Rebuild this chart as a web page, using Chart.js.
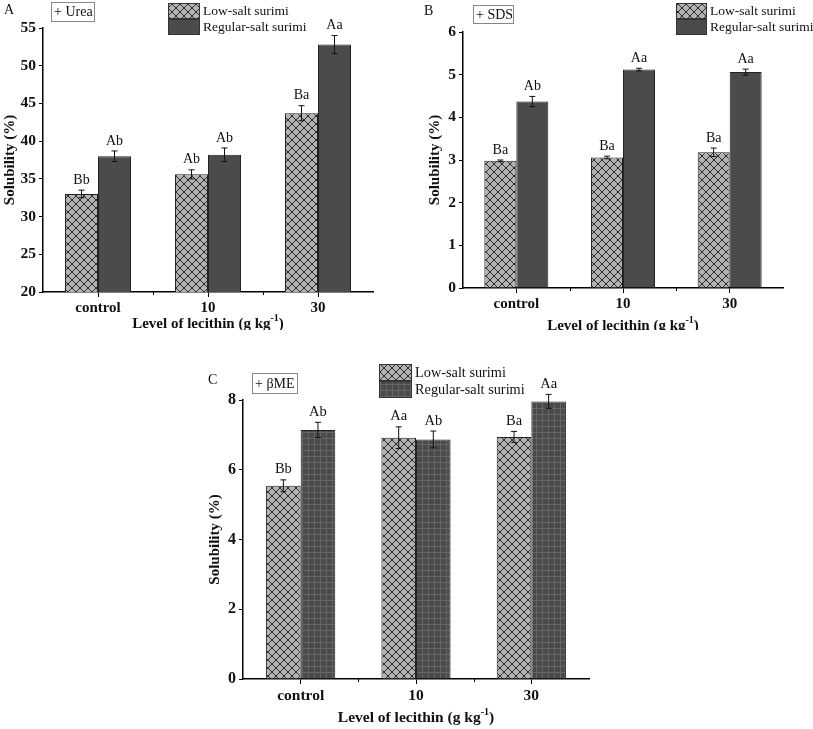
<!DOCTYPE html>
<html>
<head>
<meta charset="utf-8">
<script src="https://cdn.jsdelivr.net/npm/chart.js@4.4.1/dist/chart.umd.min.js"></script>
<style>
  body { margin: 0; background: #fff; width: 813px; height: 729px; position: relative; overflow: hidden; }
  canvas { position: absolute; }
</style>
</head>
<body>
<canvas id="chartA" width="400" height="330" style="left:0;top:0;width:400px;height:330px"></canvas>
<canvas id="chartB" width="403" height="330" style="left:410px;top:0;width:403px;height:330px"></canvas>
<canvas id="chartC" width="420" height="369" style="left:200px;top:360px;width:420px;height:369px"></canvas>
<script>
const categories = ["control", "10", "30"];
const seriesNames = ["Low-salt surimi", "Regular-salt surimi"];

// A: + Urea
const ureaLow = [33.0, 35.6, 43.7];
const ureaLowErr = [0.5, 0.6, 1.0];
const ureaReg = [38.0, 38.2, 52.8];
const ureaRegErr = [0.7, 0.9, 1.2];
const ureaLowTags = ["Bb", "Ab", "Ba"];
const ureaRegTags = ["Ab", "Ab", "Aa"];

// B: + SDS
const sdsLow = [2.98, 3.06, 3.18];
const sdsLowErr = [0.02, 0.03, 0.1];
const sdsReg = [4.37, 5.12, 5.06];
const sdsRegErr = [0.12, 0.03, 0.07];
const sdsLowTags = ["Ba", "Ba", "Ba"];
const sdsRegTags = ["Ab", "Aa", "Aa"];

// C: + bME
const bmeLow = [5.54, 6.92, 6.94];
const bmeLowErr = [0.17, 0.31, 0.16];
const bmeReg = [7.14, 6.87, 7.96];
const bmeRegErr = [0.22, 0.24, 0.2];
const bmeLowTags = ["Bb", "Aa", "Ba"];
const bmeRegTags = ["Ab", "Ab", "Aa"];

const FONT = "'Liberation Serif', 'Times New Roman', serif";

function crossHatch() {
  const c = document.createElement("canvas");
  c.width = 8; c.height = 8;
  const g = c.getContext("2d");
  g.fillStyle = "#b3b3b3";
  g.fillRect(0, 0, 8, 8);
  g.strokeStyle = "#2a2a2a";
  g.lineWidth = 1;
  g.beginPath();
  g.moveTo(0, 0); g.lineTo(8, 8);
  g.moveTo(8, 0); g.lineTo(0, 8);
  g.stroke();
  return g.createPattern(c, "repeat");
}

function gridFill() {
  const c = document.createElement("canvas");
  c.width = 6; c.height = 6;
  const g = c.getContext("2d");
  g.fillStyle = "#4a4a4a";
  g.fillRect(0, 0, 6, 6);
  g.fillStyle = "#666";
  g.fillRect(0, 0, 6, 1);
  g.fillRect(0, 0, 1, 6);
  return g.createPattern(c, "repeat");
}

const annotate = {
  id: "annotate",
  afterDraw(chart, args, o) {
    const ctx = chart.ctx;
    const y = chart.scales.y, x = chart.scales.x;
    const area = chart.chartArea;
    ctx.save();
    // minor ticks between categories
    ctx.strokeStyle = "#000";
    ctx.lineWidth = 1;
    ctx.beginPath();
    for (let i = 0; i < categories.length - 1; i++) {
      const bx = Math.round((x.getPixelForTick(i) + x.getPixelForTick(i + 1)) / 2) + 0.5;
      ctx.moveTo(bx, area.bottom); ctx.lineTo(bx, area.bottom + 3);
    }
    ctx.stroke();
    // error bars and letters
    chart.data.datasets.forEach((ds, i) => {
      const meta = chart.getDatasetMeta(i);
      meta.data.forEach((bar, j) => {
        const v = ds.data[j], e = o.errors[i][j];
        const yt = y.getPixelForValue(v + e), yb = y.getPixelForValue(v - e);
        ctx.strokeStyle = "#111";
        ctx.lineWidth = 1;
        ctx.beginPath();
        ctx.moveTo(bar.x, yt); ctx.lineTo(bar.x, yb);
        ctx.moveTo(bar.x - 3, yt); ctx.lineTo(bar.x + 3, yt);
        ctx.moveTo(bar.x - 3, yb); ctx.lineTo(bar.x + 3, yb);
        ctx.stroke();
        ctx.fillStyle = "#111";
        ctx.font = `${o.tagSize}px ${FONT}`;
        ctx.textAlign = "center";
        ctx.textBaseline = "bottom";
        ctx.fillText(o.tags[i][j], bar.x, yt - 3);
      });
    });
    // legend
    const lg = o.legend;
    chart.data.datasets.forEach((ds, i) => {
      const top = lg.y + i * (lg.h + 1);
      ctx.fillStyle = ds.backgroundColor;
      ctx.fillRect(lg.x, top, lg.w, lg.h);
      ctx.strokeStyle = "#333";
      ctx.strokeRect(lg.x + 0.5, top + 0.5, lg.w, lg.h);
      ctx.fillStyle = "#111";
      ctx.font = `${lg.size}px ${FONT}`;
      ctx.textAlign = "left";
      ctx.textBaseline = "middle";
      ctx.fillText(ds.label, lg.x + lg.w + 4, top + lg.h / 2 + 1);
    });
    // panel letter and tag box
    ctx.fillStyle = "#111";
    ctx.font = `14px ${FONT}`;
    ctx.textAlign = "left";
    ctx.textBaseline = "middle";
    ctx.fillText(o.letter.text, o.letter.x, o.letter.y);
    const tb = o.tagBox;
    ctx.strokeStyle = "#888";
    ctx.strokeRect(tb.x + 0.5, tb.y + 0.5, tb.w, tb.h);
    ctx.fillText(tb.text, tb.x + 3, tb.y + tb.h / 2 + 1);
    // x axis title with superscript
    const a = "Level of lecithin (g kg", sup = "-1", b = ")";
    const mainFont = `bold ${o.xTitle.size}px ${FONT}`, supFont = `bold 10px ${FONT}`;
    ctx.font = mainFont;
    const wa = ctx.measureText(a).width, wb = ctx.measureText(b).width;
    ctx.font = supFont;
    const ws = ctx.measureText(sup).width;
    let x0 = (area.left + area.right) / 2 - (wa + ws + wb) / 2;
    const ty = area.bottom + o.xTitle.dy;
    ctx.font = mainFont;
    ctx.fillText(a, x0, ty);
    ctx.font = supFont;
    ctx.fillText(sup, x0 + wa, ty - 6);
    ctx.font = mainFont;
    ctx.fillText(b, x0 + wa + ws, ty);
    ctx.restore();
  }
};

function makePanel(id, p) {
  const low = crossHatch();
  return new Chart(document.getElementById(id), {
    type: "bar",
    data: {
      labels: categories,
      datasets: [
        { label: seriesNames[0], data: p.low, backgroundColor: low, borderColor: "#222", borderWidth: 1 },
        { label: seriesNames[1], data: p.reg, backgroundColor: p.regFill, borderColor: "#222", borderWidth: 1 }
      ]
    },
    options: {
      responsive: false,
      animation: false,
      events: [],
      layout: { padding: { left: 0, right: p.padRight, top: p.padTop, bottom: 0 } },
      datasets: { bar: { categoryPercentage: 0.6, barPercentage: 1 } },
      plugins: {
        legend: { display: false },
        tooltip: { enabled: false },
        annotate: {
          errors: [p.lowErr, p.regErr],
          tags: [p.lowTags, p.regTags],
          tagSize: p.tagSize,
          legend: p.legend,
          letter: p.letter,
          tagBox: p.tagBox,
          xTitle: p.xTitle
        }
      },
      scales: {
        x: {
          afterFit: (s) => { s.height = p.xHeight; },
          border: { color: "#000", width: 1.5 },
          grid: { display: true, drawOnChartArea: false, offset: false, tickLength: 5, color: "#000" },
          ticks: { color: "#111", padding: p.xTickPad, font: { family: FONT, size: p.tickSize, weight: "bold" } }
        },
        y: {
          min: p.min, max: p.max,
          afterFit: (s) => { s.width = p.yWidth; },
          border: { color: "#000", width: 1.5 },
          grid: { display: true, drawOnChartArea: false, tickLength: 4, color: "#000" },
          ticks: { stepSize: p.step, color: "#111", padding: 3, font: { family: FONT, size: p.tickSize + 0.5, weight: "bold" } },
          title: { display: true, text: "Solubility (%)", color: "#111", padding: { top: p.yTitlePad, bottom: 0 }, font: { family: FONT, size: 15, weight: "bold" } }
        }
      }
    },
    plugins: [annotate]
  });
}

makePanel("chartA", {
  low: ureaLow, lowErr: ureaLowErr, reg: ureaReg, regErr: ureaRegErr,
  lowTags: ureaLowTags, regTags: ureaRegTags, regFill: "#4b4b4b",
  min: 20, max: 55, step: 5, tickSize: 15, tagSize: 14,
  padRight: 27, padTop: 28, yWidth: 43, xHeight: 38, xTickPad: 2, yTitlePad: 1,
  legend: { x: 168, y: 3, w: 31, h: 15, size: 13.5 },
  letter: { text: "A", x: 4, y: 10 },
  tagBox: { text: "+ Urea", x: 51, y: 2, w: 43, h: 19 },
  xTitle: { size: 15, dy: 32 }
});

makePanel("chartB", {
  low: sdsLow, lowErr: sdsLowErr, reg: sdsReg, regErr: sdsRegErr,
  lowTags: sdsLowTags, regTags: sdsRegTags, regFill: "#4b4b4b",
  min: 0, max: 6, step: 1, tickSize: 15, tagSize: 14,
  padRight: 30, padTop: 32, yWidth: 53, xHeight: 42, xTickPad: 2, yTitlePad: 16,
  legend: { x: 266, y: 3, w: 30, h: 15, size: 13.5 },
  letter: { text: "B", x: 14, y: 11 },
  tagBox: { text: "+ SDS", x: 63, y: 5, w: 40, h: 18 },
  xTitle: { size: 15, dy: 38 }
});

makePanel("chartC", {
  low: bmeLow, lowErr: bmeLowErr, reg: bmeReg, regErr: bmeRegErr,
  lowTags: bmeLowTags, regTags: bmeRegTags, regFill: gridFill(),
  min: 0, max: 8, step: 2, tickSize: 15.5, tagSize: 14.5,
  padRight: 31, padTop: 40, yWidth: 43, xHeight: 50, xTickPad: 3, yTitlePad: 6,
  legend: { x: 179, y: 4, w: 32, h: 16, size: 14.3 },
  letter: { text: "C", x: 8, y: 20 },
  tagBox: { text: "+ \u03B2ME", x: 52, y: 13, w: 45, h: 20 },
  xTitle: { size: 15.5, dy: 39 }
});
</script>
</body>
</html>
